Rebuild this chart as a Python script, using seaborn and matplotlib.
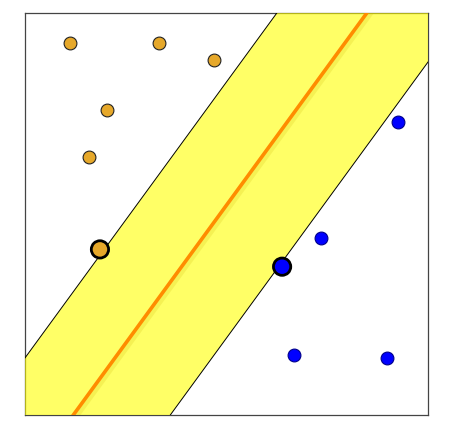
import numpy as np
import pandas as pd
import matplotlib
matplotlib.use("Agg")
import matplotlib.pyplot as plt
import matplotlib.patheffects as pe
import seaborn as sns

# ---- data ----
orange_x = [1.11, 3.33, 4.69, 2.04, 1.59]
orange_y = [9.26, 9.26, 8.83, 7.59, 6.41]
blue_x = [9.26, 7.34, 6.67, 8.98]
blue_y = [7.30, 4.41, 1.49, 1.43]
support_x = [1.86, 6.38]
support_y = [4.12, 3.69]
support_cls = ["A", "B"]

# separating line: y = slope * (x - x0) + y0
slope = 1.373
center_x0 = 4.84
upper_x0 = 2.607
lower_x0 = 7.247
y0 = 5.0

sns.set_style("white")

fig = plt.figure(figsize=(4.57, 4.37), dpi=100)
ax = fig.add_axes([0.0547, 0.0503, 0.8818, 0.9199])

xs = np.array([-2.0, 12.0])
line_c = slope * (xs - center_x0) + y0
line_u = slope * (xs - upper_x0) + y0
line_l = slope * (xs - lower_x0) + y0

ax.fill_between(xs, line_l, line_u, color="#ffff00", alpha=0.6, lw=0, zorder=3)
ax.plot(xs, line_u, color="black", lw=0.7, zorder=4)
ax.plot(xs, line_l, color="black", lw=0.7, zorder=4)
ax.plot(xs, line_c, color="#ff8c00", lw=2.6, zorder=5,
        path_effects=[pe.SimpleLineShadow(offset=(1.2, -1.2), shadow_color="#c8b400", alpha=0.18, linewidth=5),
                      pe.Normal()])

df = pd.DataFrame({
    "x": orange_x + blue_x,
    "y": orange_y + blue_y,
    "cls": ["A"] * len(orange_x) + ["B"] * len(blue_x),
})
palette = {"A": "#e6a82a", "B": "#0000ff"}
edges = {"A": "#222222", "B": "#00008b"}

for c in ["A", "B"]:
    sub = df[df.cls == c]
    sns.scatterplot(data=sub, x="x", y="y", color=palette[c], s=85,
                    edgecolor=edges[c], linewidth=0.8, ax=ax, zorder=6, legend=False)

sv = pd.DataFrame({"x": support_x, "y": support_y, "cls": support_cls})
sns.scatterplot(data=sv, x="x", y="y", hue="cls", palette=palette, s=155,
                edgecolor="black", linewidth=2.0, ax=ax, zorder=7, legend=False)

ax.set_xlim(0, 10)
ax.set_ylim(0, 10)
ax.set_xticks([])
ax.set_yticks([])
ax.set_xlabel("")
ax.set_ylabel("")
for s in ax.spines.values():
    s.set_color("#444444")
    s.set_linewidth(0.9)

fig.savefig("out.png", dpi=100)
